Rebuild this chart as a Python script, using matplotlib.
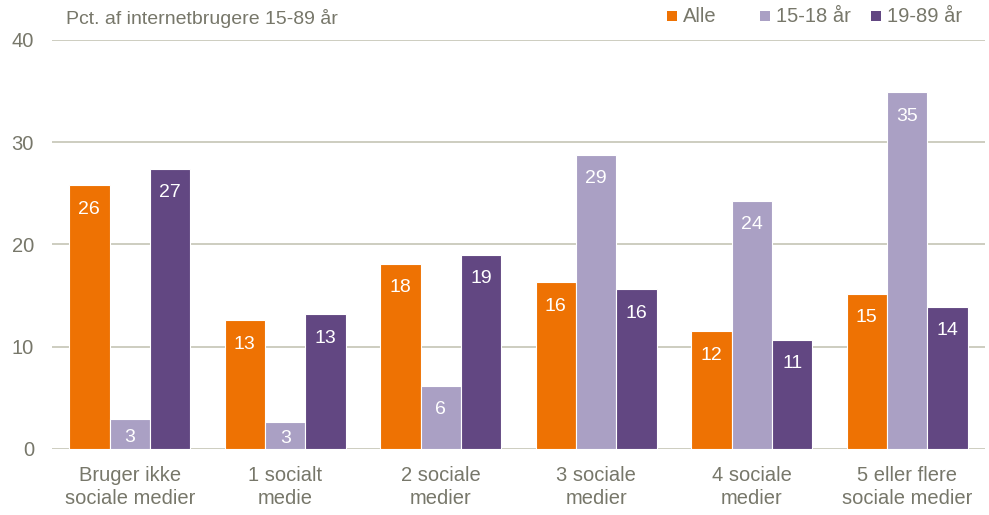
import matplotlib
matplotlib.use("Agg")
import matplotlib.pyplot as plt
import numpy as np
from matplotlib.patches import Rectangle

plt.rcParams['font.family'] = ['Liberation Sans', 'DejaVu Sans']

categories = ["Bruger ikke\nsociale medier", "1 socialt\nmedie", "2 sociale\nmedier",
              "3 sociale\nmedier", "4 sociale\nmedier", "5 eller flere\nsociale medier"]
series_names = ["Alle", "15-18 år", "19-89 år"]
alle = [25.8, 12.6, 18.1, 16.3, 11.5, 15.2]
ung = [2.9, 2.6, 6.2, 28.8, 24.3, 34.9]
voksen = [27.4, 13.2, 19.0, 15.6, 10.7, 13.9]
labels_alle = [26, 13, 18, 16, 12, 15]
labels_ung = [3, 3, 6, 29, 24, 35]
labels_voksen = [27, 13, 19, 16, 11, 14]
yticks = [0, 10, 20, 30, 40]
title = "Pct. af internetbrugere 15-89 år"

colors = ['#EE7203', '#AAA0C4', '#624782']
txtc = '#77776A'
gridc = '#C5C5B5'

W, H = 989, 515
fig = plt.figure(figsize=(W / 100, H / 100), dpi=100)
ax = fig.add_axes([52 / W, (H - 449) / H, 933 / W, 409 / H])

x = np.arange(len(categories))
w = 0.26
series = [alle, ung, voksen]
labs = [labels_alle, labels_ung, labels_voksen]
for i, (vals, lb, c) in enumerate(zip(series, labs, colors)):
    bars = ax.bar(x + (i - 1) * w, vals, w, color=c, edgecolor='white', linewidth=0.8, zorder=3)
    for b, v, l in zip(bars, vals, lb):
        h_px = v * 409 / 40
        off = min(24, h_px / 2 + 3)
        ax.annotate(str(l), (b.get_x() + b.get_width() / 2, v), xytext=(0, -off * 0.72),
                    textcoords='offset points', ha='center', va='center',
                    color='white', fontsize=14, zorder=4)

ax.set_xlim(-0.5, 5.5)
ax.set_ylim(0, 40)
ax.set_yticks(yticks)
ax.grid(axis='y', color=gridc, linewidth=1.2, zorder=0)
ax.set_xticks(x)
ax.set_xticklabels(categories, fontsize=14.5, color=txtc, linespacing=1.3)
ax.tick_params(axis='y', labelsize=14.5, labelcolor=txtc, length=0, pad=13)
ax.tick_params(axis='x', length=0, pad=12)
for s in ax.spines.values():
    s.set_visible(False)

fig.text(66 / W, 1 - 18 / H, title, fontsize=14, color=txtc, va='center', ha='left')

# legend drawn manually
leg_sq_x = [667, 760, 871]
for name, c, sx in zip(series_names, colors, leg_sq_x):
    fig.patches.append(Rectangle((sx / W, 1 - 21 / H), 10 / W, 10 / H, transform=fig.transFigure,
                                 facecolor=c, edgecolor='none'))
    fig.text((sx + 16) / W, 1 - 16 / H, name, fontsize=14.5, color=txtc, va='center', ha='left')

fig.savefig('out.png', dpi=100)
